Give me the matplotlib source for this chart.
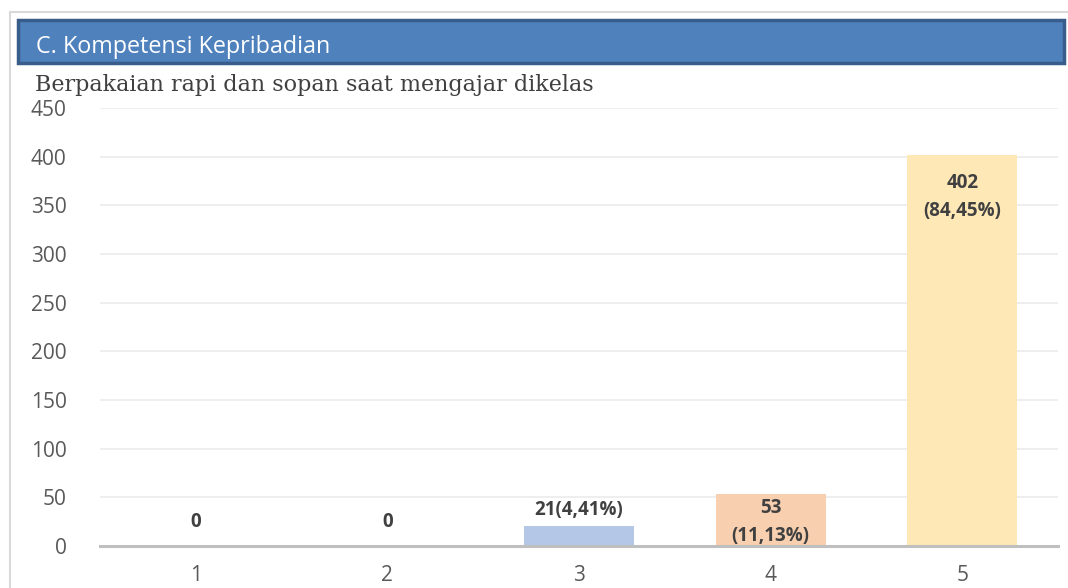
import matplotlib
matplotlib.use("Agg")
import matplotlib.pyplot as plt
from matplotlib.patches import Rectangle
from matplotlib.lines import Line2D

categories = ["1", "2", "3", "4", "5"]
counts = [0, 0, 21, 53, 402]
percent_labels = ["", "", "4,41%", "11,13%", "84,45%"]
bar_colors = ["#B4C7E7", "#B4C7E7", "#B4C7E7", "#F8CFAF", "#FEE8B6"]
y_ticks = [0, 50, 100, 150, 200, 250, 300, 350, 400, 450]
header_title = "C. Kompetensi Kepribadian"
subtitle = "Berpakaian rapi dan sopan saat mengajar dikelas"

plt.rcParams["font.family"] = ["Open Sans", "DejaVu Sans"]

fig = plt.figure(figsize=(10.68, 5.88), dpi=100)
W, H = 1068, 588

def fx(px):
    return px / W

def fy(py):
    return 1 - py / H

# outer frame lines
fig.add_artist(Line2D([fx(10), fx(10)], [fy(12), 0], color="#D9D9D9", lw=1.5))
fig.add_artist(Line2D([fx(10), 1], [fy(12), fy(12)], color="#D9D9D9", lw=1.5))

# header banner
fig.add_artist(Rectangle((fx(18), fy(63)), fx(1064) - fx(18), fy(20) - fy(63),
                         facecolor="#4F81BD", edgecolor="#385D8A", lw=2.5))
fig.text(fx(36), fy(47), header_title, color="white", fontsize=16.8,
         va="center", ha="left")
fig.text(fx(35), fy(85), subtitle, color="#404040", fontsize=16,
         family="DejaVu Serif", va="center", ha="left")

ax = fig.add_axes([fx(100), fy(546), fx(1058) - fx(100), fy(108) - fy(546)])
x = list(range(1, len(categories) + 1))
ax.bar(x, counts, width=0.575, color=bar_colors, zorder=2)
ax.set_xlim(0.5, 5.5)
ax.set_ylim(0, 450)
ax.set_yticks(y_ticks)
ax.set_xticks(x)
ax.set_xticklabels(categories)
ax.yaxis.grid(True, color="#EBEBEB", lw=1.2, zorder=0)
ax.set_axisbelow(True)
for s in ["top", "right", "left"]:
    ax.spines[s].set_visible(False)
ax.spines["bottom"].set_color("#BFBFBF")
ax.spines["bottom"].set_linewidth(2.2)
ax.tick_params(axis="both", length=0, labelsize=15, labelcolor="#595959")
ax.tick_params(axis="y", pad=24)
ax.tick_params(axis="x", pad=14)

lab_kw = dict(fontsize=13.5, fontweight="bold", color="#404040",
              ha="center", textcoords="offset points", linespacing=1.55)
for xi, v, p in zip(x, counts, percent_labels):
    if v == 0:
        ax.annotate(f"{v}", (xi, v), xytext=(0, 17), va="center", **lab_kw)
    elif v < 40:
        ax.annotate(f"{v}({p})", (xi, v), xytext=(0, 4), va="bottom", **lab_kw)
    elif v < 100:
        ax.annotate(f"{v}\n({p})", (xi, v), xytext=(0, -2.5), va="top", **lab_kw)
    else:
        ax.annotate(f"{v}\n({p})", (xi, v), xytext=(0, -13), va="top", **lab_kw)

fig.savefig("out.png", dpi=100)
